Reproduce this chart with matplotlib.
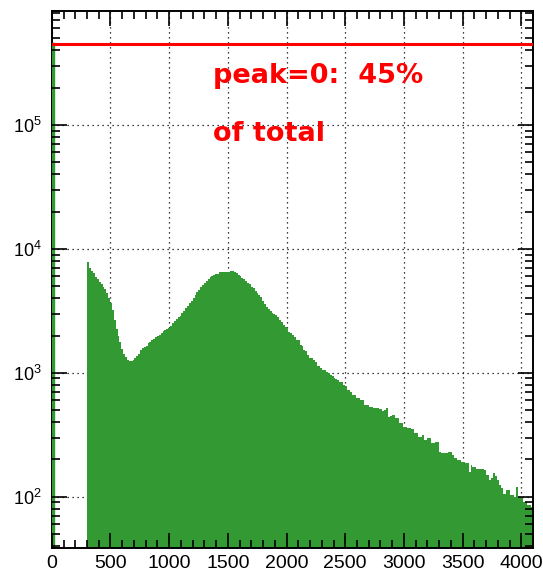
import numpy as np
import matplotlib
matplotlib.use("Agg")
import matplotlib.pyplot as plt
from matplotlib.ticker import MultipleLocator, LogLocator, NullFormatter

plt.rcParams['font.family'] = ['Liberation Sans', 'DejaVu Sans']

# histogram: 16-wide bins, the first filled bin after the zero peak starts at 304
bin_width = 16
bin_start = 304
peak0_count = 4.5e5
counts = [
    7830, 7010, 6580, 6400, 5940, 5720, 5400, 5210, 4930, 4740, 4400, 4010, 3660, 3210, 2670, 2250,
    1980, 1770, 1560, 1420, 1340, 1270, 1245, 1245, 1270, 1315, 1370, 1420, 1530, 1590, 1615, 1645,
    1740, 1770, 1840, 1875, 1945, 1980, 2020, 2095, 2175, 2215, 2250, 2300, 2390, 2525, 2620, 2720,
    2820, 2870, 3040, 3155, 3340, 3460, 3660, 3800, 4010, 4250, 4490, 4660, 4930, 5110, 5310, 5510,
    5720, 5940, 6050, 6160, 6270, 6300, 6460, 6480, 6480, 6500, 6490, 6500, 6580, 6640, 6460, 6350,
    6160, 6050, 5860, 5720, 5510, 5310, 5180, 4930, 4810, 4570, 4440, 4250, 4090, 3800, 3590, 3410,
    3270, 3155, 3060, 2980, 2920, 2820, 2670, 2570, 2430, 2345, 2245, 2135, 2085, 2020, 1945, 1840,
    1840, 1675, 1645, 1530, 1500, 1395, 1315, 1310, 1270, 1220, 1135, 1135, 1085, 1055, 1055, 1020,
    995, 960, 940, 900, 890, 875, 848, 845, 798, 782, 726, 726, 703, 662, 662, 622,
    622, 603, 603, 549, 549, 549, 532, 532, 516, 516, 516, 507, 507, 492, 501, 520,
    443, 448, 456, 456, 430, 430, 395, 395, 367, 367, 356, 356, 350, 350, 325, 325,
    305, 305, 315, 287, 287, 296, 296, 270, 270, 278, 278, 231, 224, 224, 226, 226,
    231, 231, 217, 204, 204, 198, 198, 192, 192, 186, 186, 159, 180, 175, 175, 166,
    166, 166, 166, 164, 150, 150, 136, 141, 155, 147, 136, 124, 117, 106, 106, 113,
    113, 103, 103, 100, 120, 100, 100, 100, 91, 91, 86, 86, 82,
]
label_line1 = "peak=0:  45%"
label_line2 = "of total"

green = '#339933'
left_edges = bin_start + bin_width * np.arange(len(counts))

fig = plt.figure(figsize=(5.43, 5.74), dpi=100)
ax = fig.add_axes([0.0954, 0.0448, 0.8854, 0.936])
ax.set_yscale('log')
ax.set_xlim(0, 4096)
ax.set_ylim(38.4, 8.3e5)

# grid under the histogram
ax.set_axisbelow(True)
ax.grid(True, which='major', color='black', linestyle=(0, (1, 3)), linewidth=0.9)

ax.bar(left_edges, counts, width=bin_width, align='edge', color=green, linewidth=0, zorder=1)
# zero peak bin, drawn a little wider so it shows like in the ROOT picture
ax.bar([0], [peak0_count], width=bin_width, align='edge', color=green,
       edgecolor=green, linewidth=1.7, zorder=1)
ax.axhline(peak0_count, color='red', linewidth=2.2, zorder=3)

for s in ax.spines.values():
    s.set_linewidth(1.4)
ax.spines['left'].set_zorder(0.9)

ax.xaxis.set_major_locator(MultipleLocator(500))
ax.xaxis.set_minor_locator(MultipleLocator(100))
ax.yaxis.set_major_locator(LogLocator(base=10))
ax.yaxis.set_minor_locator(LogLocator(base=10, subs=np.arange(2, 10)))
ax.yaxis.set_minor_formatter(NullFormatter())
ax.tick_params(which='both', length=0)
ax.tick_params(axis='x', labelsize=14, pad=4.5)
ax.tick_params(axis='y', labelsize=13, pad=7)

# ticks drawn on top of the histogram (ROOT style, inside on all four sides)
ax_t = fig.add_axes(ax.get_position(), sharex=ax, sharey=ax, frameon=False)
ax_t.set_zorder(ax.get_zorder() + 1)
ax_t.patch.set_visible(False)
ax_t.tick_params(which='both', direction='in', top=True, right=True,
                 labelbottom=False, labelleft=False, width=1.2)
ax_t.tick_params(which='major', length=10.5)
ax_t.tick_params(which='minor', length=5.5)

ax.text(0.336, 0.8654, label_line1, transform=ax.transAxes, color='red',
        fontsize=19.5, fontweight='bold', family='DejaVu Sans',
        va='baseline', ha='left', zorder=4)
ax.text(0.336, 0.7585, label_line2, transform=ax.transAxes, color='red',
        fontsize=19.5, fontweight='bold', family='DejaVu Sans',
        va='baseline', ha='left', zorder=4)

fig.savefig('out.png', dpi=100)
